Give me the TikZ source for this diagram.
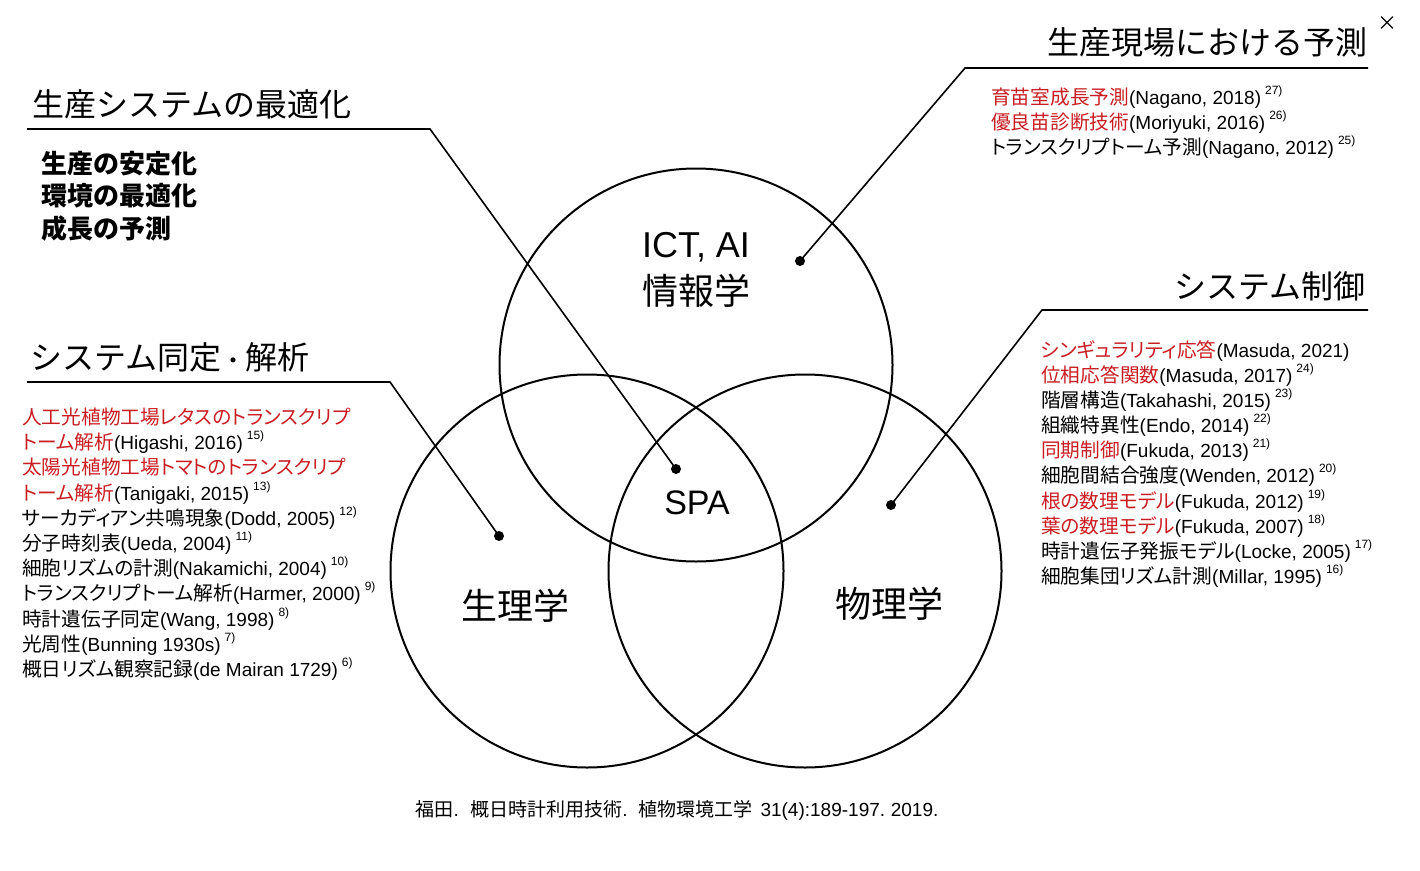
\documentclass[tikz,border=0pt]{standalone}
\usepackage{fontspec}
\setmainfont{Noto Sans CJK JP}[RawFeature=+palt]
\newfontfamily\fullw{Noto Sans CJK JP}
\newfontfamily\latf{Liberation Sans}
\definecolor{myred}{RGB}{200,30,35}
\newcommand\rd[1]{\textcolor{myred}{#1}}
\newcommand\ct[1]{{\latf\fontsize{19}{24}\selectfont #1}}
\newcommand\cl[1]{{\latf #1}}
\newcommand\sref[1]{\hspace{4pt}\raisebox{0.5em}{\latf\fontsize{12}{12}\selectfont #1}}
\begin{document}
\begin{tikzpicture}[x=1pt,y=-1pt,
  line/.style={line width=1.6pt},
  ring/.style={circle, draw, line width=2pt, minimum size=393pt, inner sep=0},
  dot/.style={circle, fill, inner sep=0, minimum size=10pt},
  title/.style={font=\fullw\fontsize{32}{36}\selectfont, inner sep=0, anchor=base west},
  bolditem/.style={font=\fullw\bfseries\fontsize{26}{30}\selectfont, inner sep=0, anchor=base west},
  item/.style={font=\fontsize{19.7}{24}\selectfont, inner sep=0, anchor=base west},
  big/.style={font=\fontsize{36}{40}\selectfont, inner sep=0, anchor=base},
  cite/.style={font=\fullw\fontsize{19}{22}\selectfont, inner sep=0, anchor=base}]
\useasboundingbox (0,0) rectangle (1420,870);
% circles
\node[ring] (cT) at (696,365) {};
\node[ring] (cL) at (587,571) {};
\node[ring] (cR) at (805,571) {};
% circle labels
\node[big] (ict) at (696,257) {\latf ICT, AI};
\node[big] (info) at (696,304) {情報学};
\node[big, font=\latf\fontsize{34}{38}\selectfont] (spa) at (697,514) {SPA};
\node[big] (phys) at (515,619) {生理学};
\node[big] (math) at (889,617) {物理学};
% dots
\node[dot] (d1) at (676,469) {};
\node[dot] (d2) at (800,261) {};
\node[dot] (d3) at (499,536) {};
\node[dot] (d4) at (891,505) {};
% connectors
\coordinate (u1a) at (27,129);  \coordinate (u1b) at (430,129);
\coordinate (u2a) at (1368,68); \coordinate (u2b) at (965,68);
\coordinate (u3a) at (27,382);  \coordinate (u3b) at (390,382);
\coordinate (u4a) at (1368,310);\coordinate (u4b) at (1042,310);
\draw[line] (u1a) -- (u1b) -- (d1.center);
\draw[line] (u2a) -- (u2b) -- (d2.center);
\draw[line] (u3a) -- (u3b) -- (d3.center);
\draw[line] (u4a) -- (u4b) -- (d4.center);
% titles
\node[title] (t1) at (32,116) {生産システムの最適化};
\node[title, anchor=base east] (t2) at (1368,54) {生産現場における予測};
\node[title] (t3) at (30,369) {システム同定{\fontsize{24}{24}\selectfont ・}解析};
\node[title, anchor=base east] (t4) at (1366,298) {システム制御};
\node[font=\fontsize{20}{20}\selectfont, inner sep=0] (close) at (1387,24) {×};
% optimisation items
\node[bolditem] (b1) at (41,173) {生産の安定化};
\node[bolditem] (b2) at (41,205) {環境の最適化};
\node[bolditem] (b3) at (41,238) {成長の予測};
% top right list
\node[item] (p1) at (991,104) {\rd{育苗室成長予測}\ct{(Nagano, 2018)}\sref{27)}};
\node[item] (p2) at (991,129) {\rd{優良苗診断技術}\ct{(Moriyuki, 2016)}\sref{26)}};
\node[item] (p3) at (991,154) {トランスクリプトーム予測\ct{(Nagano, 2012)}\sref{25)}};
% left list
\node[item] (l1) at (22,424) {\rd{人工光植物工場レタスのトランスクリプ}};
\node[item] (l2) at (22,449) {\rd{トーム解析}\ct{(Higashi, 2016)}\sref{15)}};
\node[item] (l3) at (22,474) {\rd{太陽光植物工場トマトのトランスクリプ}};
\node[item] (l4) at (22,500) {\rd{トーム解析}\ct{(Tanigaki, 2015)}\sref{13)}};
\node[item] (l5) at (22,525) {サーカディアン共鳴現象\ct{(Dodd, 2005)}\sref{12)}};
\node[item] (l6) at (22,550) {分子時刻表\ct{(Ueda, 2004)}\sref{11)}};
\node[item] (l7) at (22,575) {細胞リズムの計測\ct{(Nakamichi, 2004)}\sref{10)}};
\node[item] (l8) at (22,600) {トランスクリプトーム解析\ct{(Harmer, 2000)}\sref{9)}};
\node[item] (l9) at (22,626) {時計遺伝子同定\ct{(Wang, 1998)}\sref{8)}};
\node[item] (l10) at (22,651) {光周性\ct{(Bunning 1930s)}\sref{7)}};
\node[item] (l11) at (22,676) {概日リズム観察記録\ct{(de Mairan 1729)}\sref{6)}};
% right list
\node[item] (r1) at (1041,357) {\rd{シンギュラリティ応答}\ct{(Masuda, 2021)}};
\node[item] (r2) at (1041,382) {\rd{位相応答関数}\ct{(Masuda, 2017)}\sref{24)}};
\node[item] (r3) at (1041,407) {階層構造\ct{(Takahashi, 2015)}\sref{23)}};
\node[item] (r4) at (1041,432) {組織特異性\ct{(Endo, 2014)}\sref{22)}};
\node[item] (r5) at (1041,457) {\rd{同期制御}\ct{(Fukuda, 2013)}\sref{21)}};
\node[item] (r6) at (1041,482) {細胞間結合強度\ct{(Wenden, 2012)}\sref{20)}};
\node[item] (r7) at (1041,508) {\rd{根の数理モデル}\ct{(Fukuda, 2012)}\sref{19)}};
\node[item] (r8) at (1041,533) {\rd{葉の数理モデル}\ct{(Fukuda, 2007)}\sref{18)}};
\node[item] (r9) at (1041,558) {時計遺伝子発振モデル\ct{(Locke, 2005)}\sref{17)}};
\node[item] (r10) at (1041,583) {細胞集団リズム計測\ct{(Millar, 1995)}\sref{16)}};
% citation
\node[cite] (src) at (677,816) {福田\cl{.}\hspace{0.6em}概日時計利用技術\cl{.}\hspace{0.6em}植物環境工学\hspace{0.4em}\cl{31(4):189-197.\hspace{0.3em}2019.}};
\end{tikzpicture}
\end{document}
